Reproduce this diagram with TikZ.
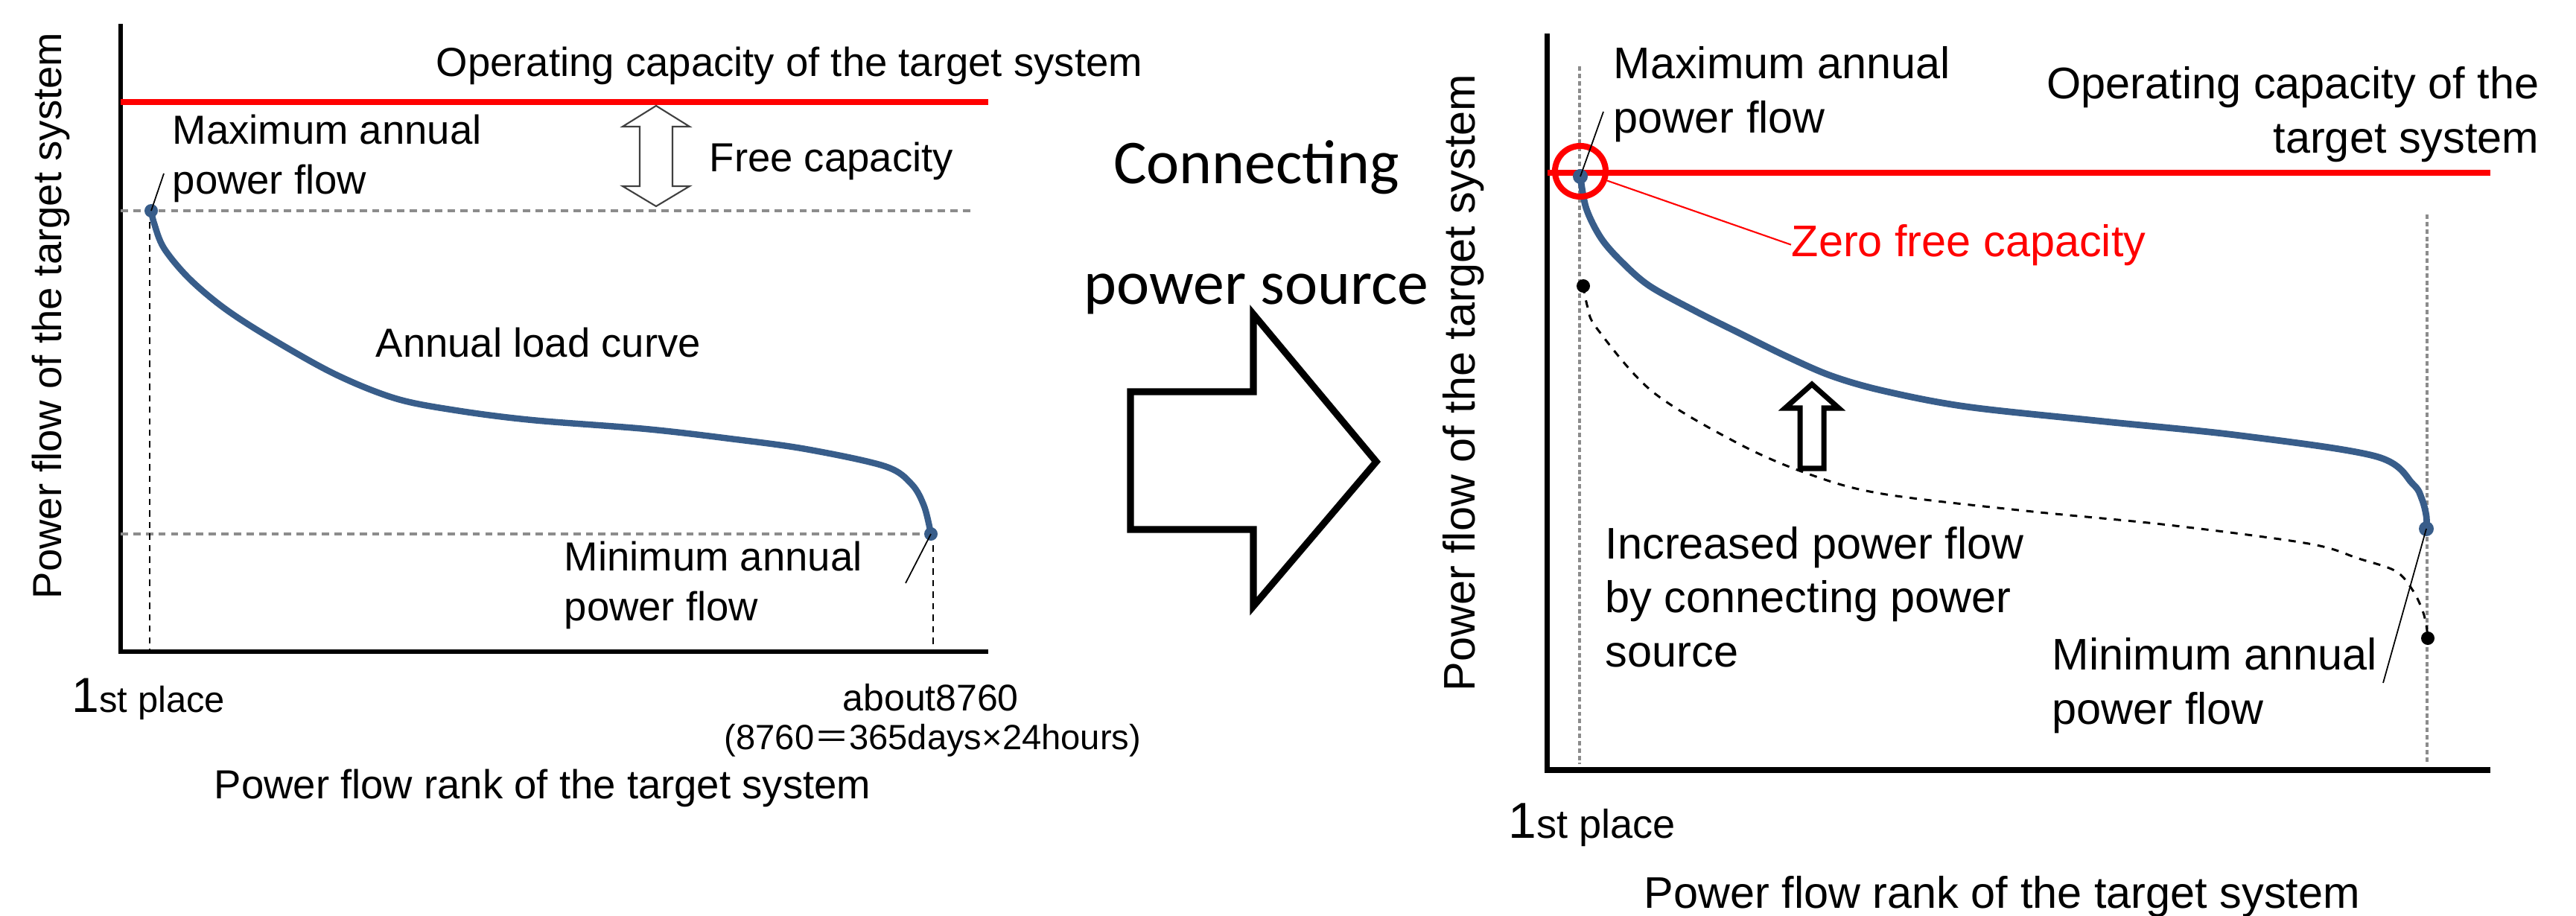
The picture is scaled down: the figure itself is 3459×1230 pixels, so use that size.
\documentclass[tikz,border=0pt]{standalone}
\usepackage{fontspec}
\setmainfont{Liberation Sans}
\newfontfamily\carlito{Carlito}
\newfontfamily\cjk{Noto Sans CJK JP}
\usetikzlibrary{arrows.meta}
\newcommand{\fontL}{\fontsize{15.5}{19}\selectfont}
\newcommand{\fontR}{\fontsize{16.9}{20.5}\selectfont}

\begin{document}
\begin{tikzpicture}[x=0.01cm, y=-0.01cm, every node/.style={inner sep=0pt, align=left},
    axisline/.style={line width=1.8pt},
    capline/.style={draw=red, line width=2.1pt},
    guideline/.style={draw=black!45, line width=0.9pt, dash pattern=on 2.8pt off 2pt},
    dropline/.style={line width=0.6pt, dash pattern=on 2.4pt off 2pt},
    greydrop/.style={draw=black!45, line width=1.2pt, dash pattern=on 1.7pt off 1.1pt},
    loadcurve/.style={draw=loadblue, line width=2.4pt, line cap=round},
    oldcurve/.style={line width=0.85pt, dash pattern=on 2.8pt off 2.8pt},
    leader/.style={line width=0.5pt},
    hollow/.style={fill=white, line join=miter}]
  \definecolor{loadblue}{RGB}{56,93,138}
  \useasboundingbox (0,0) rectangle (3459,1230);

  % ---- left: before connecting
  \draw[axisline] (162,32) -- (162,875) -- (1327,875);
  \draw[capline] (162,137) -- (1327,137);
  \draw[guideline] (162,283) -- (1306,283);
  \draw[guideline] (162,717) -- (1250,717);
  \draw[dropline] (201,283) -- (201,875);
  \draw[dropline] (1253,717) -- (1253,875);
  \draw[loadcurve] plot[smooth, tension=0.55] coordinates {(203,283) (207,300) (220,333) (253,373) (300,413) (360,452) (449,502) (531,535) (612,551) (714,564) (867,576) (980,589) (1082,603) (1188,626) (1224,650) (1241,680) (1250,717)};
  \coordinate (maxL) at (203,283);
  \coordinate (minL) at (1250,717);
  \fill[loadblue] (maxL) circle[radius=0.09cm];
  \fill[loadblue] (minL) circle[radius=0.09cm];
  \draw[hollow, draw=black!75, line width=0.6pt] (881,142) -- (926,170) -- (903,170) -- (903,250) -- (926,250) -- (881,277) -- (836,250) -- (859,250) -- (859,170) -- (836,170) -- cycle;

  \node[anchor=base west, font=\fontL] (capL) at (585,102) {Operating capacity of the target system};
  \node[anchor=base west, font=\fontL] (maxLtxt) at (231,260) {Maximum annual\\power flow};
  \node[anchor=base west, font=\fontL] (freeL) at (952,230) {Free capacity};
  \node[anchor=base west, font=\fontL] (curveL) at (504,479) {Annual load curve};
  \node[anchor=base west, font=\fontL] (minLtxt) at (757,833) {Minimum annual\\power flow};
  \coordinate (maxLtag) at (220,233);
  \coordinate (minLtag) at (1216,783);
  \draw[leader] (maxLtag) -- (maxL);
  \draw[leader] (minLtag) -- (minL);
  \node[anchor=base west] (firstL) at (96,956) {{\fontsize{18.8}{20}\selectfont 1}\fontsize{13.9}{16}\selectfont st place};
  \node[anchor=base west, font=\fontsize{14.2}{16}\selectfont] (lastL) at (1131,954) {about8760};
  \node[anchor=base west, font=\fontsize{13.4}{16}\selectfont] (hoursL) at (972,1006) {(8760{\cjk ＝}365days×24hours)};
  \node[anchor=base west, font=\fontL] (rankL) at (287,1072) {Power flow rank of the target system};
  \node[rotate=90, anchor=base, font=\fontL] (flowL) at (82,424) {Power flow of the target system};

  % ---- middle arrow
  \draw[hollow, line width=2.6pt] (1518,526) -- (1683,526) -- (1683,422) -- (1848,620) -- (1683,814) -- (1683,711) -- (1518,711) -- cycle;
  \node[anchor=base, align=center, font=\carlito\fontsize{23.8}{46}\selectfont] (connect) at (1687,408) {Connecting\\power source};

  % ---- right: after connecting
  \draw[axisline, line width=2pt] (2077,45) -- (2077,1034) -- (3344,1034);
  \draw[capline, line width=2.3pt] (2078,232) -- (3344,232);
  \draw[greydrop] (2121,89) -- (2121,1026);
  \draw[greydrop] (3259,288) -- (3259,1026);
  \draw[oldcurve] plot[smooth, tension=0.55] coordinates {(2126,384) (2132,413) (2145,442) (2219,526) (2335,596) (2430,637) (2527,663) (2720,686) (2912,705) (3100,730) (3167,750) (3217,767) (3240,793) (3253,820) (3258,840) (3260,857)};
  \draw[loadcurve, line width=2.5pt] plot[smooth, tension=0.55] coordinates {(2122,237) (2130,280) (2150,320) (2178,352) (2215,384) (2277,418) (2335,447) (2400,479) (2460,505) (2530,525) (2640,546) (2816,565) (3009,585) (3191,613) (3240,650) (3252,670) (3258,693) (3258,710)};
  \coordinate (maxR) at (2122,237);
  \coordinate (minR) at (3258,710);
  \coordinate (oldmaxR) at (2126,384);
  \coordinate (oldminR) at (3260,857);
  \fill[loadblue] (maxR) circle[radius=0.1cm];
  \fill[loadblue] (minR) circle[radius=0.1cm];
  \fill (oldmaxR) circle[radius=0.09cm];
  \fill (oldminR) circle[radius=0.09cm];
  \node[circle, draw=red, line width=2.3pt, minimum size=0.68cm] (ring) at (2122,230) {};
  \draw[hollow, line width=2pt] (2433,516) -- (2469,548) -- (2449,548) -- (2449,629) -- (2417,629) -- (2417,548) -- (2397,548) -- cycle;

  \node[anchor=base west, font=\fontR] (maxRtxt) at (2166,178) {Maximum annual\\power flow};
  \node[anchor=base east, align=right, font=\fontR] (capR) at (3410,205) {Operating capacity of the\\target system};
  \node[anchor=base west, font=\fontR, text=red] (zero) at (2405,344) {Zero free capacity};
  \node[anchor=base west, font=\fontR] (rise) at (2155,895) {Increased power flow\\by connecting power\\source};
  \node[anchor=base west, font=\fontR] (minRtxt) at (2755,972) {Minimum annual\\power flow};
  \coordinate (maxRtag) at (2153,150);
  \coordinate (minRtag) at (3200,917);
  \draw[leader] (maxRtag) -- (maxR);
  \draw[leader] (minRtag) -- (minR);
  \draw[red, line width=0.6pt] (ring) -- (zero.west);
  \node[anchor=base west] (firstR) at (2025,1125) {{\fontsize{19.3}{21}\selectfont 1}\fontsize{15.4}{18}\selectfont st place};
  \node[anchor=base west, font=\fontR] (rankR) at (2207,1219) {Power flow rank of the target system};
  \node[rotate=90, anchor=base, font=\fontR] (flowR) at (1980,514) {Power flow of the target system};
\end{tikzpicture}
\end{document}
